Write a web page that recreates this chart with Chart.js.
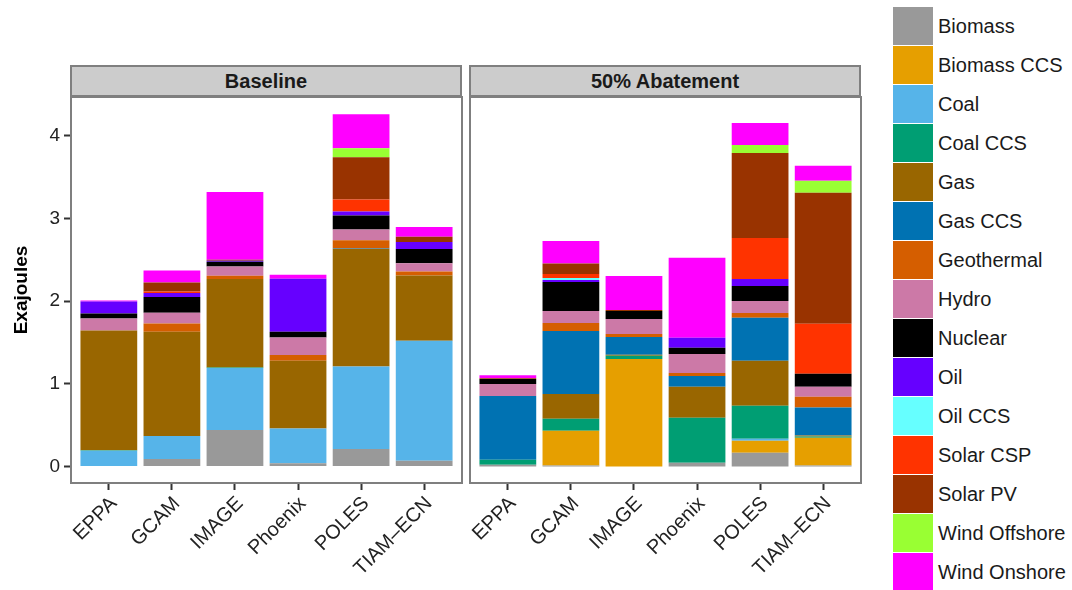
<!DOCTYPE html>
<html>
<head>
<meta charset="utf-8">
<script src="https://cdn.jsdelivr.net/npm/chart.js@4.4.1/dist/chart.umd.min.js"></script>
<style>
  body { margin: 0; background: #fff; font-family: 'Liberation Sans', Arial, Helvetica, sans-serif; }
  #wrap { position: relative; width: 1072px; height: 590px; overflow: hidden; }
  #wrap canvas { position: absolute; top: 0; }
  .strip { position: absolute; top: 65px; height: 28px; background: #cccccc; border: 2px solid #7f7f7f;
           font-weight: bold; font-size: 20px; color: #1a1a1a; text-align: center; line-height: 29px; }
  .key { position: absolute; left: 893px; width: 40px; height: 38px; }
  .keylab { position: absolute; left: 938px; height: 39px; line-height: 39px; font-size: 20px; color: #1a1a1a; white-space: nowrap; }
</style>
</head>
<body>
<div id="wrap">
  <canvas id="base" width="466" height="590" style="left:0px"></canvas>
  <canvas id="abate" width="404" height="590" style="left:466px"></canvas>
  <div class="strip" style="left:70px;width:388px">Baseline</div>
  <div class="strip" style="left:469px;width:388px">50% Abatement</div>
  <div id="legend"></div>
</div>
<script>
// Models (x categories) and y-axis ticks
const models = ['EPPA', 'GCAM', 'IMAGE', 'Phoenix', 'POLES', 'TIAM\u2013ECN'];
const yTicks = [0, 1, 2, 3, 4];

// Technologies, bottom of stack first, and their fill colours
const techs = ['Biomass', 'Biomass CCS', 'Coal', 'Coal CCS', 'Gas', 'Gas CCS', 'Geothermal', 'Hydro',
               'Nuclear', 'Oil', 'Oil CCS', 'Solar CSP', 'Solar PV', 'Wind Offshore', 'Wind Onshore'];
const techColors = ['#999999', '#E69F00', '#56B4E9', '#009E73', '#996600', '#0072B2', '#D55E00', '#CC79A7',
                    '#000000', '#6600FF', '#66FFFF', '#FF3300', '#993300', '#99FF33', '#FF00FF'];

// Baseline generation (EJ), one value per model
const baseBiomass      = [0,     0.09,  0.44,  0.04,  0.21,  0.07];
const baseBiomassCCS   = [0,     0,     0,     0,     0,     0];
const baseCoal         = [0.19,  0.28,  0.75,  0.42,  1.00,  1.45];
const baseCoalCCS      = [0.006, 0,     0.008, 0,     0,     0];
const baseGas          = [1.45,  1.26,  1.07,  0.82,  1.42,  0.79];
const baseGasCCS       = [0,     0,     0,     0,     0.006, 0];
const baseGeothermal   = [0,     0.10,  0.04,  0.07,  0.10,  0.05];
const baseHydro        = [0.145, 0.13,  0.11,  0.21,  0.13,  0.10];
const baseNuclear      = [0.06,  0.19,  0.06,  0.07,  0.17,  0.17];
const baseOil          = [0.145, 0.05,  0.01,  0.64,  0.05,  0.085];
const baseOilCCS       = [0,     0,     0,     0,     0,     0];
const baseSolarCSP     = [0,     0.016, 0,     0,     0.145, 0];
const baseSolarPV      = [0,     0.11,  0.012, 0,     0.51,  0.065];
const baseWindOffshore = [0,     0,     0,     0,     0.11,  0];
const baseWindOnshore  = [0.012, 0.145, 0.82,  0.048, 0.41,  0.117];

// 50% abatement generation (EJ), one value per model
const abateBiomass      = [0.02,  0.012, 0,     0.044, 0.165, 0.012];
const abateBiomassCCS   = [0,     0.42,  1.30,  0,     0.145, 0.335];
const abateCoal         = [0,     0,     0,     0,     0.024, 0];
const abateCoalCCS      = [0.06,  0.145, 0.04,  0.544, 0.40,  0.016];
const abateGas          = [0,     0.30,  0.012, 0.375, 0.544, 0.012];
const abateGasCCS       = [0.774, 0.762, 0.214, 0.133, 0.52,  0.339];
const abateGeothermal   = [0,     0.097, 0.036, 0.036, 0.06,  0.129];
const abateHydro        = [0.145, 0.145, 0.181, 0.23,  0.145, 0.121];
const abateNuclear      = [0.06,  0.351, 0.097, 0.073, 0.181, 0.157];
const abateOil          = [0,     0.024, 0,     0.121, 0.085, 0];
const abateOilCCS       = [0,     0.024, 0,     0,     0,     0];
const abateSolarCSP     = [0,     0.048, 0,     0,     0.496, 0.605];
const abateSolarPV      = [0.008, 0.129, 0.012, 0,     1.028, 1.585];
const abateWindOffshore = [0,     0,     0,     0,     0.097, 0.145];
const abateWindOnshore  = [0.036, 0.27,  0.411, 0.968, 0.266, 0.181];

const baseline = [baseBiomass, baseBiomassCCS, baseCoal, baseCoalCCS, baseGas, baseGasCCS, baseGeothermal,
  baseHydro, baseNuclear, baseOil, baseOilCCS, baseSolarCSP, baseSolarPV, baseWindOffshore, baseWindOnshore];
const abatement = [abateBiomass, abateBiomassCCS, abateCoal, abateCoalCCS, abateGas, abateGasCCS, abateGeothermal,
  abateHydro, abateNuclear, abateOil, abateOilCCS, abateSolarCSP, abateSolarPV, abateWindOffshore, abateWindOnshore];

const FONT = "'Liberation Sans', Arial, Helvetica, sans-serif";
Chart.defaults.font.family = FONT;

// grey frame around each facet panel
const panelBorder = {
  id: 'panelBorder',
  afterDraw(chart) {
    const { ctx, chartArea: a } = chart;
    ctx.save();
    ctx.strokeStyle = '#7f7f7f';
    ctx.lineWidth = 2;
    ctx.strokeRect(a.left, a.top, a.right - a.left, a.bottom - a.top);
    ctx.restore();
  }
};

function makeDatasets(series) {
  return techs.map((t, k) => ({
    label: t,
    data: series[k].map((v, i) => ({ x: i + 1, y: v })),
    backgroundColor: techColors[k],
    borderWidth: 0,
    barPercentage: 0.9,
    categoryPercentage: 1.0
  }));
}

function tickGrid() {
  return { display: true, offset: false, drawOnChartArea: false, drawTicks: true,
           tickLength: 7, tickWidth: 2, tickColor: '#333333' };
}

function makeChart(id, series, showY, padding) {
  return new Chart(document.getElementById(id), {
    type: 'bar',
    data: { datasets: makeDatasets(series) },
    options: {
      responsive: false,
      animation: false,
      devicePixelRatio: 1,
      layout: { padding },
      plugins: { legend: { display: false }, tooltip: { enabled: false } },
      scales: {
        x: {
          type: 'linear', min: 0.4, max: 6.6, stacked: true, offset: false,
          afterBuildTicks: s => { s.ticks = models.map((m, i) => ({ value: i + 1 })); },
          ticks: {
            callback: v => models[Math.round(v) - 1],
            autoSkip: false, minRotation: 45, maxRotation: 45, labelOffset: 5,
            font: { size: 20 }, color: '#222222', padding: 2
          },
          grid: tickGrid(),
          border: { display: false },
          afterFit: s => { s.height = 107; }
        },
        y: {
          display: showY,
          min: -0.2, max: 4.47, stacked: true,
          afterBuildTicks: s => { s.ticks = yTicks.map(v => ({ value: v })); },
          ticks: { font: { size: 19 }, color: '#222222', padding: 4 },
          grid: tickGrid(),
          border: { display: false },
          title: { display: true, text: 'Exajoules', color: '#000000',
                   font: { size: 19, weight: 'bold' }, padding: { top: 10, bottom: 0 } },
          afterFit: s => { s.width = showY ? 71 : 0; }
        }
      }
    },
    plugins: [panelBorder]
  });
}

makeChart('base', baseline, true, { top: 97, right: 4, left: 0, bottom: 0 });
makeChart('abate', abatement, false, { top: 97, right: 9, left: 4, bottom: 0 });

// legend keys
const legend = document.getElementById('legend');
techs.forEach((t, k) => {
  const top = 7 + 39 * k;
  const sw = document.createElement('div');
  sw.className = 'key';
  sw.style.top = top + 'px';
  sw.style.background = techColors[k];
  legend.appendChild(sw);
  const lab = document.createElement('div');
  lab.className = 'keylab';
  lab.style.top = top + 'px';
  lab.textContent = t;
  legend.appendChild(lab);
});
</script>
</body>
</html>
